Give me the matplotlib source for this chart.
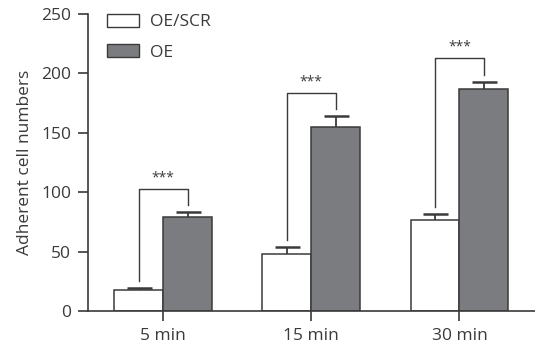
import numpy as np
import matplotlib
matplotlib.use("Agg")
import matplotlib.pyplot as plt
from matplotlib.patches import Patch

plt.rcParams['font.family'] = ['Open Sans', 'DejaVu Sans']

times = ['5 min', '15 min', '30 min']
scr_mean = [17.7, 47.7, 76.9]
scr_err = [1.3, 6.2, 4.7]
oe_mean = [78.9, 155.2, 186.9]
oe_err = [4.7, 8.9, 6.1]
bracket_top = [102.4, 183.2, 212.7]
stars = ['***', '***', '***']

ink = '#3a3a3a'
gray = '#7b7c7f'

fig = plt.figure(figsize=(5.35, 3.54), dpi=100)
ax = fig.add_axes([0.1645, 0.1215, 0.8355, 0.839])

x = np.arange(len(times))
w = 0.33
groups = [(x - w / 2, scr_mean, scr_err, 'white'), (x + w / 2, oe_mean, oe_err, gray)]
for xp, m, e, c in groups:
    ax.bar(xp, m, w, color=c, edgecolor=ink, linewidth=1.1, zorder=2)
    top = np.array(m) + np.array(e)
    ax.vlines(xp, m, top, color=ink, lw=1.3, zorder=3)
    ax.plot(xp, top, ls='none', marker='_', ms=18, mew=1.8, color=ink, zorder=3)

# significance brackets
for i in range(len(times)):
    y1 = scr_mean[i] + scr_err[i] + 6
    y2 = oe_mean[i] + oe_err[i] + 6
    top = bracket_top[i]
    ax.plot([x[i] - w / 2, x[i] - w / 2, x[i] + w / 2, x[i] + w / 2],
            [y1, top, top, y2], color=ink, lw=1.0)
    ax.text(x[i], top + 3, stars[i], ha='center', va='bottom', fontsize=10, color=ink)

ax.set_xlim(-0.507, 2.51)
ax.set_ylim(0, 250)
ax.set_yticks([0, 50, 100, 150, 200, 250])
ax.set_xticks(x)
ax.set_xticklabels(times)
ax.set_ylabel('Adherent cell numbers', fontsize=12.5, color=ink, labelpad=6)

for s in ['top', 'right']:
    ax.spines[s].set_visible(False)
for s in ['left', 'bottom']:
    ax.spines[s].set_color(ink)
    ax.spines[s].set_linewidth(1.2)
ax.tick_params(axis='both', direction='out', length=7, width=1.2, color=ink,
               labelsize=12.5, labelcolor=ink, pad=5)

ax.legend(handles=[Patch(facecolor='white', edgecolor=ink, label='OE/SCR'),
                   Patch(facecolor=gray, edgecolor=ink, label='OE')],
          loc='upper left', bbox_to_anchor=(0.0425, 1.0), frameon=False,
          borderpad=0, borderaxespad=0,
          fontsize=12.5, handlelength=1.84, handleheight=0.75, labelspacing=0.8,
          handletextpad=0.63, labelcolor=ink)

fig.savefig('out.png', dpi=100)
